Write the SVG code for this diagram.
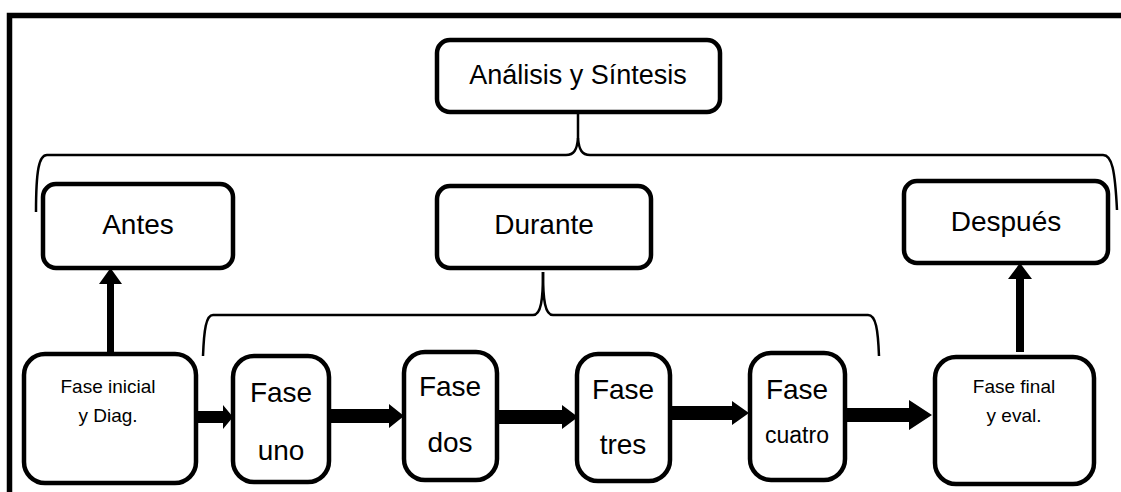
<svg xmlns="http://www.w3.org/2000/svg" width="1121" height="492" viewBox="0 0 1121 492">
<style>
.box{fill:#fff;stroke:#000;stroke-width:4.5}
.t{font-family:"Liberation Sans",Arial,sans-serif;fill:#000;text-anchor:middle}
.br{fill:none;stroke:#000;stroke-width:2.5}
.ar{fill:#000;stroke:none}
.frame{fill:none;stroke:#000;stroke-width:5.5}
</style>
<rect width="1121" height="492" fill="#fff"/>
<path class="frame" d="M9.5,492 L9.5,15.5 L1121,15.5"/>
<g id="connectors">
<path class="br" d="M578,112 L578,138 C579,150 582,155 590,155 L1103,155 C1112,155 1115,170 1117,210"/>
<path class="br" d="M578,138 C577,150 574,155 566,155 L47,155 C39,155 36,170 36,212"/>
<path class="br" d="M543,272 C543,300 545,315 553,315 L868,315 C876,315 878,330 879,356"/>
<path class="br" d="M543,272 C543,300 541,315 533,315 L213,315 C206,315 204,330 203,356"/>
<path class="ar" d="M107,353 L107,284 L99,284 L110.5,268 L122,284 L114,284 L114,353 Z"/>
<path class="ar" d="M1016,352 L1016,279 L1008,279 L1020,263 L1032,279 L1024,279 L1024,352 Z"/>
<path class="ar" d="M198,411 L223,411 L223,405 L233,417 L223,429 L223,423 L198,423 Z"/>
<path class="ar" d="M331,409 L389,409 L389,404 L404,416 L389,428 L389,423 L331,423 Z"/>
<path class="ar" d="M498,410 L562,410 L562,405 L578,417 L562,429 L562,424 L498,424 Z"/>
<path class="ar" d="M670,406 L732,406 L732,401 L749,413 L732,425 L732,420 L670,420 Z"/>
<path class="ar" d="M847,408 L909,408 L909,400 L932,415 L909,430 L909,422 L847,422 Z"/>
</g>
<g id="analisis"><rect class="box" x="437" y="40" width="283" height="72" rx="13"/><text class="t" x="578" y="84" font-size="27">Análisis y Síntesis</text></g>
<g id="antes"><rect class="box" x="43" y="184" width="190" height="84" rx="13"/><text class="t" x="138" y="234" font-size="28">Antes</text></g>
<g id="durante"><rect class="box" x="437" y="186" width="214" height="82" rx="13"/><text class="t" x="544" y="234" font-size="28">Durante</text></g>
<g id="despues"><rect class="box" x="904" y="181" width="204" height="82" rx="13"/><text class="t" x="1006" y="231" font-size="28">Después</text></g>
<g id="inicial"><rect class="box" x="24" y="354" width="172" height="129" rx="21"/><text class="t" x="108" y="393" font-size="19">Fase inicial</text><text class="t" x="108" y="422" font-size="19">y Diag.</text></g>
<g id="uno"><rect class="box" x="233" y="356" width="96" height="126" rx="21"/><text class="t" x="281" y="402" font-size="28">Fase</text><text class="t" x="281" y="460" font-size="28">uno</text></g>
<g id="dos"><rect class="box" x="404" y="352" width="93" height="128" rx="21"/><text class="t" x="450" y="396" font-size="28">Fase</text><text class="t" x="450" y="452" font-size="28">dos</text></g>
<g id="tres"><rect class="box" x="577" y="354" width="93" height="127" rx="21"/><text class="t" x="623" y="399" font-size="28">Fase</text><text class="t" x="623" y="454" font-size="28">tres</text></g>
<g id="cuatro"><rect class="box" x="750" y="353" width="95" height="127" rx="21"/><text class="t" x="797" y="399" font-size="28">Fase</text><text class="t" x="797" y="443" font-size="23">cuatro</text></g>
<g id="final"><rect class="box" x="935" y="357" width="159" height="127" rx="21"/><text class="t" x="1014" y="393" font-size="19">Fase final</text><text class="t" x="1014" y="422" font-size="19">y eval.</text></g>
</svg>
